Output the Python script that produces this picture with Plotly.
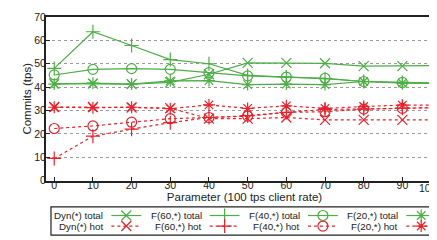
import plotly.graph_objects as go

x_vals = [0, 10, 20, 30, 40, 50, 60, 70, 80, 90, 100]

dyn_total = [41.5, 41.5, 41.3, 42.0, 45.5, 50.4, 50.4, 50.2, 49.0, 49.0, 49.2]
f60_total = [48.0, 63.7, 57.8, 51.8, 50.0, 45.0, 44.3, 43.6, 42.4, 42.0, 41.7]
f40_total = [45.2, 47.6, 47.9, 47.6, 46.2, 44.8, 44.3, 43.8, 42.4, 42.0, 41.5]
f20_total = [41.3, 41.7, 41.3, 42.7, 42.8, 41.1, 41.3, 41.1, 42.4, 41.7, 41.7]

dyn_hot = [31.5, 31.5, 31.3, 31.0, 26.5, 26.5, 27.0, 26.0, 26.0, 26.0, 26.0]
f60_hot = [9.5, 19.0, 22.0, 24.8, 27.0, 27.8, 29.2, 30.5, 30.6, 31.0, 31.3]
f40_hot = [22.3, 23.4, 25.0, 26.5, 27.0, 27.6, 29.2, 29.5, 30.6, 30.9, 31.3]
f20_hot = [31.4, 31.2, 31.4, 30.8, 32.4, 30.9, 32.0, 30.9, 31.7, 32.3, 32.3]

series_names = ["Dyn(*) total", "F(60,*) total", "F(40,*) total", "F(20,*) total",
                "Dyn(*) hot", "F(60,*) hot", "F(40,*) hot", "F(20,*) hot"]
series_values = [dyn_total, f60_total, f40_total, f20_total,
                 dyn_hot, f60_hot, f40_hot, f20_hot]

x_tick_labels = [str(v) for v in x_vals]
y_ticks = [0, 10, 20, 30, 40, 50, 60, 70]

GREEN = "#4cae44"
RED = "#e8212b"
FONT = "Liberation Sans"
SYMBOLS = ["x-thin-open", "cross-thin-open", "circle-open", "asterisk-open"]

W, H = 437, 240
ML, MT = 38, 9
PLOT_BOTTOM = 177          # pixel row of y=0
paper_w = W - ML
paper_h = H - MT

def py(pix):               # pixel row -> paper fraction
    return (H - pix) / paper_h

def px(pix):               # pixel column -> paper fraction
    return (pix - ML) / paper_w

fig = go.Figure()

# data traces
for i, (name, ys) in enumerate(zip(series_names, series_values)):
    hot = i >= 4
    color = RED if hot else GREEN
    sym = SYMBOLS[i % 4]
    fig.add_trace(go.Scatter(
        x=x_vals, y=ys, name=name, mode="lines+markers", showlegend=False,
        line=dict(color=color, width=1.2, dash="dot" if hot else "solid"),
        marker=dict(symbol=sym, size=10, color=color,
                    line=dict(color=color, width=1.2)),
        xaxis="x", yaxis="y",
    ))

# custom legend (text then sample, as in the reference), on a pixel-scaled hidden axis
LEG_LEFT, LEG_TOP, LEG_BOTTOM = 43, 204, 233
COL0_TEXT_RIGHT, COL_STEP = 97.7, 98.8
ROW_Y = [212.8, 223.6]
annotations = []
for i, name in enumerate(series_names):
    col, row = i % 4, i // 4
    hot = row == 1
    color = RED if hot else GREEN
    tr = COL0_TEXT_RIGHT + COL_STEP * col
    yrow = ROW_Y[row]
    fig.add_trace(go.Scatter(
        x=[tr + 6, tr + 36], y=[yrow, yrow], mode="lines", showlegend=False,
        line=dict(color=color, width=1.2, dash="dot" if hot else "solid"),
        xaxis="x2", yaxis="y2", hoverinfo="skip",
    ))
    fig.add_trace(go.Scatter(
        x=[tr + 21], y=[yrow], mode="markers", showlegend=False,
        marker=dict(symbol=SYMBOLS[col], size=10, color=color,
                    line=dict(color=color, width=1.2)),
        xaxis="x2", yaxis="y2", hoverinfo="skip",
    ))
    annotations.append(dict(
        x=tr, y=yrow, xref="x2", yref="y2", text=name, showarrow=False,
        xanchor="right", yanchor="middle",
        font=dict(family=FONT, size=9.8, color="#222222"),
    ))

# the last x tick label sits at the window's right edge: keep it inside the canvas
axis_tick_text = x_tick_labels[:-1] + [""]
annotations.append(dict(
    x=1, y=py(PLOT_BOTTOM), xref="paper", yref="paper",
    text=x_tick_labels[-1], showarrow=False, xanchor="right", yanchor="top",
    xshift=-4, yshift=1, font=dict(family=FONT, size=10.5, color="#222222"),
))

shapes = [dict(
    type="rect", xref="paper", yref="paper",
    x0=px(LEG_LEFT), x1=1.05, y0=py(LEG_BOTTOM), y1=py(LEG_TOP),
    line=dict(color="#222222", width=1.2), fillcolor="rgba(0,0,0,0)", layer="below",
)]

fig.update_layout(
    width=W, height=H,
    margin=dict(l=ML, r=0, t=MT, b=0),
    paper_bgcolor="white", plot_bgcolor="white",
    font=dict(family=FONT, size=10, color="#222222"),
    showlegend=False,
    annotations=annotations,
    shapes=shapes,
    xaxis=dict(
        range=[-2.13, 100.5], tickvals=x_vals, ticktext=axis_tick_text, anchor="y",
        showgrid=False, zeroline=False,
        showline=True, linecolor="#222222", linewidth=2, mirror=True,
        ticks="inside", ticklen=4, tickwidth=1, tickcolor="#222222",
        tickfont=dict(size=10.5), ticklabelstandoff=-6,
        title=dict(text="Parameter (100 tps client rate)", font=dict(size=11.5), standoff=0),
    ),
    yaxis=dict(
        range=[0, 70], tickvals=y_ticks, anchor="x",
        domain=[py(PLOT_BOTTOM), 1],
        showgrid=True, gridcolor="#9a9a9a", griddash="dot", gridwidth=1,
        zeroline=False,
        showline=True, linecolor="#222222", linewidth=2, mirror=True,
        ticks="inside", ticklen=4, tickwidth=1, tickcolor="#222222",
        tickfont=dict(size=10.5), ticklabelstandoff=-4,
        title=dict(text="Commits (tps)", font=dict(size=11.5), standoff=0),
    ),
    xaxis2=dict(
        domain=[0, 1], range=[ML, W], anchor="y2", visible=False, fixedrange=True,
    ),
    yaxis2=dict(
        domain=[py(LEG_BOTTOM + 4), py(LEG_TOP - 4)],
        range=[LEG_BOTTOM + 4, LEG_TOP - 4], anchor="x2", visible=False, fixedrange=True,
    ),
)

fig.write_html("out.html")
